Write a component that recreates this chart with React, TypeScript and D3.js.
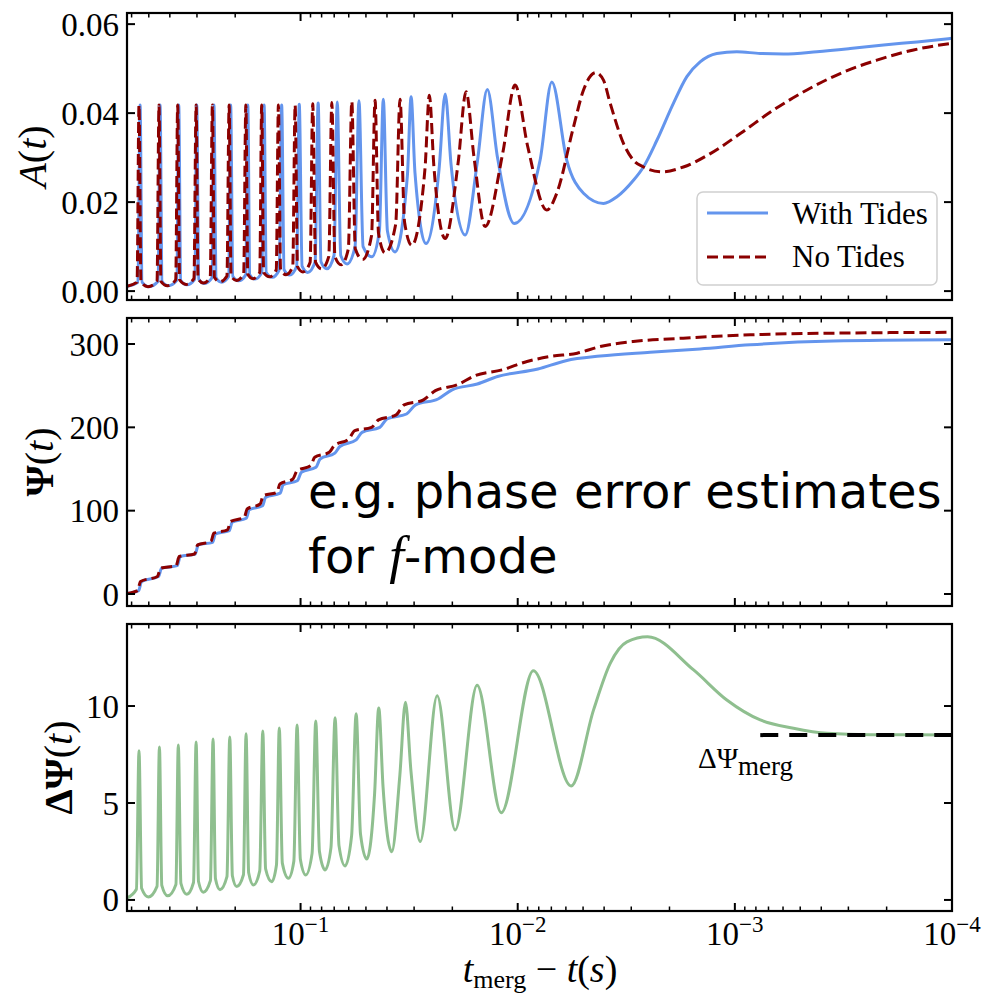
import React from "react";
import * as d3 from "d3";

// x values are log10(t_merg - t [s])
const ampTidesLogT = [-0.201,-0.251,-0.261,-0.270,-0.302,-0.344,-0.353,-0.362,-0.391,-0.430,-0.439,-0.448,-0.476,-0.513,-0.522,-0.531,-0.558,-0.592,-0.601,-0.611,-0.636,-0.669,-0.678,-0.688,-0.714,-0.748,-0.757,-0.766,-0.790,-0.822,-0.832,-0.842,-0.869,-0.902,-0.913,-0.924,-0.950,-0.982,-0.994,-1.007,-1.033,-1.067,-1.081,-1.094,-1.121,-1.154,-1.169,-1.185,-1.214,-1.251,-1.269,-1.288,-1.328,-1.363,-1.381,-1.400,-1.435,-1.492,-1.509,-1.527,-1.578,-1.638,-1.666,-1.693,-1.758,-1.814,-1.860,-1.907,-1.984,-2.103,-2.157,-2.226,-2.303,-2.395,-2.457,-2.533,-2.579,-2.641,-2.717,-2.779,-2.840,-2.917,-3.009,-3.117,-3.224,-3.378,-3.531,-3.685,-3.839,-4.000];
const ampTides = [0.0011,0.0020,0.0418,0.0020,0.0010,0.0022,0.0418,0.0022,0.0012,0.0024,0.0418,0.0024,0.0014,0.0027,0.0418,0.0027,0.0017,0.0030,0.0418,0.0030,0.0020,0.0033,0.0418,0.0033,0.0023,0.0037,0.0418,0.0037,0.0027,0.0042,0.0418,0.0042,0.0031,0.0048,0.0418,0.0048,0.0036,0.0056,0.0420,0.0056,0.0042,0.0066,0.0423,0.0066,0.0050,0.0080,0.0425,0.0080,0.0061,0.0100,0.0428,0.0100,0.0077,0.0135,0.0431,0.0135,0.0088,0.0260,0.0437,0.0265,0.0107,0.0275,0.0443,0.0285,0.0126,0.0290,0.0453,0.0300,0.0152,0.0294,0.0470,0.0294,0.0220,0.0197,0.0212,0.0249,0.0279,0.0339,0.0422,0.0482,0.0515,0.0534,0.0538,0.0534,0.0533,0.0538,0.0545,0.0553,0.0560,0.0568];

const ampNoTidesLogT = [-0.201,-0.247,-0.256,-0.265,-0.297,-0.339,-0.348,-0.357,-0.387,-0.425,-0.434,-0.443,-0.473,-0.509,-0.519,-0.528,-0.553,-0.584,-0.594,-0.603,-0.629,-0.661,-0.671,-0.680,-0.705,-0.738,-0.748,-0.757,-0.781,-0.812,-0.821,-0.830,-0.857,-0.888,-0.898,-0.908,-0.933,-0.964,-0.975,-0.986,-1.011,-1.044,-1.056,-1.069,-1.097,-1.130,-1.144,-1.158,-1.187,-1.220,-1.236,-1.252,-1.286,-1.327,-1.343,-1.359,-1.389,-1.438,-1.458,-1.479,-1.512,-1.573,-1.593,-1.614,-1.666,-1.726,-1.762,-1.799,-1.850,-1.931,-1.988,-2.046,-2.134,-2.180,-2.257,-2.303,-2.360,-2.395,-2.426,-2.487,-2.533,-2.579,-2.664,-2.763,-2.887,-3.025,-3.178,-3.332,-3.485,-3.654,-3.823,-4.000];
const ampNoTides = [0.0011,0.0020,0.0418,0.0020,0.0010,0.0022,0.0418,0.0022,0.0012,0.0025,0.0418,0.0025,0.0015,0.0028,0.0418,0.0028,0.0018,0.0031,0.0418,0.0031,0.0021,0.0034,0.0418,0.0034,0.0024,0.0038,0.0418,0.0038,0.0028,0.0042,0.0418,0.0042,0.0032,0.0048,0.0418,0.0048,0.0037,0.0055,0.0418,0.0055,0.0043,0.0065,0.0421,0.0065,0.0050,0.0078,0.0424,0.0078,0.0059,0.0095,0.0426,0.0095,0.0071,0.0125,0.0429,0.0130,0.0086,0.0150,0.0431,0.0155,0.0103,0.0275,0.0440,0.0280,0.0118,0.0290,0.0448,0.0300,0.0145,0.0310,0.0463,0.0325,0.0182,0.0220,0.0369,0.0452,0.0491,0.0474,0.0422,0.0332,0.0294,0.0279,0.0268,0.0279,0.0309,0.0354,0.0407,0.0452,0.0489,0.0519,0.0542,0.0557];

const phaseTidesLogT = [-0.201,-0.254,-0.268,-0.346,-0.360,-0.432,-0.446,-0.515,-0.529,-0.595,-0.608,-0.672,-0.685,-0.750,-0.764,-0.825,-0.839,-0.906,-0.920,-0.985,-1.004,-1.071,-1.090,-1.158,-1.181,-1.256,-1.283,-1.365,-1.398,-1.488,-1.530,-1.633,-1.698,-1.814,-1.907,-2.093,-2.222,-2.380,-2.610,-2.840,-3.071,-3.453,-4.000];
const phaseTides = [0.5,4,15,21,31,34,45,48,59,62,72,76,86,91,101,106,116,121,131,136,146,152,162,169,177,185,194,200,210,216,227,234,245,252,261,270,280,285.5,290,294,299,303.5,305];

const phaseNoTidesLogT = [-0.201,-0.249,-0.263,-0.341,-0.355,-0.427,-0.441,-0.512,-0.526,-0.587,-0.601,-0.664,-0.677,-0.741,-0.754,-0.814,-0.828,-0.891,-0.905,-0.965,-0.984,-1.047,-1.065,-1.132,-1.155,-1.222,-1.250,-1.327,-1.359,-1.440,-1.477,-1.566,-1.621,-1.721,-1.804,-1.928,-2.043,-2.149,-2.274,-2.380,-2.532,-2.762,-3.071,-3.453,-4.000];
const phaseNoTides = [0.5,4,15,21,31,34,45,48,59,63,73,77,87,92,102,108,118,122,132,138,148,154,164,170,178,186,196,200,209,215,227,233,244,251,262,269,279,285,289,297,303,307,311,313,314];

const dPhaseLogT = [-0.201,-0.244,-0.256,-0.268,-0.299,-0.339,-0.350,-0.361,-0.388,-0.426,-0.437,-0.449,-0.476,-0.507,-0.519,-0.530,-0.552,-0.585,-0.597,-0.608,-0.629,-0.661,-0.674,-0.686,-0.706,-0.737,-0.749,-0.761,-0.783,-0.812,-0.826,-0.839,-0.867,-0.889,-0.902,-0.916,-0.944,-0.969,-0.984,-0.999,-1.024,-1.053,-1.070,-1.087,-1.113,-1.140,-1.159,-1.177,-1.205,-1.235,-1.256,-1.276,-1.305,-1.341,-1.360,-1.380,-1.420,-1.457,-1.483,-1.508,-1.551,-1.629,-1.712,-1.813,-1.924,-2.072,-2.246,-2.349,-2.426,-2.503,-2.598,-2.810,-2.963,-3.117,-3.270,-3.424,-3.624,-4.000];
const dPhase = [0.10,0.55,7.70,0.60,0.15,0.70,7.89,0.75,0.21,0.80,7.99,0.85,0.29,0.90,8.14,0.95,0.40,1.00,8.30,1.10,0.53,1.20,8.40,1.25,0.69,1.30,8.57,1.40,0.77,1.50,8.71,1.60,0.94,1.80,8.87,1.90,1.12,2.00,9.02,2.10,1.29,2.40,9.23,2.50,1.55,2.70,9.40,2.80,1.75,3.30,9.60,3.40,2.11,5.50,9.90,5.80,2.49,6.40,10.19,6.70,3.01,10.53,3.61,11.07,4.50,11.82,5.88,9.79,12.20,13.31,13.57,11.86,10.31,9.28,8.85,8.59,8.52,8.51];

const mergLogT = [-3.117, -4.0];
const mergValue = [8.5, 8.5];

const xMajorTicks = [1e-1, 1e-2, 1e-3, 1e-4];
const xMajorExp = ["\u22121", "\u22122", "\u22123", "\u22124"];
const yTicksA = [0, 0.02, 0.04, 0.06];
const yLabelsA = ["0.00", "0.02", "0.04", "0.06"];
const yTicksPsi = [0, 100, 200, 300];
const yTicksDPsi = [0, 5, 10];

const BLUE = "#6495ED";
const RED = "#8B0000";
const GREEN = "#8fbf8f";
const SERIF = "'Liberation Serif', 'Times New Roman', serif";

const X0 = 127, X1 = 952;

function zipData(logT: number[], vals: number[]): [number, number][] {
  return logT.map((e, i) => [Math.pow(10, e), vals[i]] as [number, number]);
}

export default function App() {
  const x = d3.scaleLog().domain([Math.pow(10, -0.2007), 1e-4]).range([X0, X1]);
  const dom0 = Math.pow(10, -0.2007);

  const panels = [
    { top: 13, bottom: 300, y: d3.scaleLinear().domain([-0.002, 0.0625]).range([300, 13]), ticks: yTicksA, labels: yLabelsA },
    { top: 318, bottom: 606, y: d3.scaleLinear().domain([-14.4, 331.2]).range([606, 318]), ticks: yTicksPsi, labels: yTicksPsi.map(String) },
    { top: 624, bottom: 911, y: d3.scaleLinear().domain([-0.57, 14.23]).range([911, 624]), ticks: yTicksDPsi, labels: yTicksDPsi.map(String) },
  ];

  const minor: number[] = [];
  for (let n = -4; n <= 0; n++) {
    for (let k = 2; k <= 9; k++) {
      const v = k * Math.pow(10, n);
      if (v <= dom0 && v >= 1e-4) minor.push(v);
    }
  }

  const lineFor = (ys: d3.ScaleLinear<number, number>) =>
    d3.line<[number, number]>().x((d) => x(d[0])).y((d) => ys(d[1])).curve(d3.curveMonotoneX);

  const p1 = lineFor(panels[0].y);
  const p2 = lineFor(panels[1].y);
  const p3 = lineFor(panels[2].y);

  const mergLine = d3.line<[number, number]>().x((d) => x(d[0])).y((d) => panels[2].y(d[1]));

  return (
    <svg width={986} height={997} style={{ position: "absolute", left: 0, top: 0, background: "#fff" }} fontFamily={SERIF}>
      <defs>
        {panels.map((p, i) => (
          <clipPath id={`clip${i}`} key={i}>
            <rect x={X0} y={p.top} width={X1 - X0} height={p.bottom - p.top} />
          </clipPath>
        ))}
      </defs>
      <rect x={0} y={0} width={986} height={997} fill="#fff" />

      {/* panel 1 */}
      <g clipPath="url(#clip0)" fill="none" strokeLinejoin="round">
        <path d={p1(zipData(ampTidesLogT, ampTides)) || ""} stroke={BLUE} strokeWidth={3} />
        <path d={p1(zipData(ampNoTidesLogT, ampNoTides)) || ""} stroke={RED} strokeWidth={3} strokeDasharray="11,5" />
      </g>
      {/* panel 2 */}
      <g clipPath="url(#clip1)" fill="none" strokeLinejoin="round">
        <path d={p2(zipData(phaseTidesLogT, phaseTides)) || ""} stroke={BLUE} strokeWidth={3} />
        <path d={p2(zipData(phaseNoTidesLogT, phaseNoTides)) || ""} stroke={RED} strokeWidth={3} strokeDasharray="11,5" />
      </g>
      {/* panel 3 */}
      <g clipPath="url(#clip2)" fill="none" strokeLinejoin="round">
        <path d={p3(zipData(dPhaseLogT, dPhase)) || ""} stroke={GREEN} strokeWidth={3} />
        <path d={mergLine(zipData(mergLogT, mergValue)) || ""} stroke="#000" strokeWidth={4} strokeDasharray="18,11" />
      </g>

      {/* frames and ticks */}
      {panels.map((p, i) => (
        <g key={`ax${i}`} stroke="#000">
          {xMajorTicks.map((v) => (
            <g key={`M${v}`} strokeWidth={2}>
              <line x1={x(v)} x2={x(v)} y1={p.bottom} y2={p.bottom - 8} />
              <line x1={x(v)} x2={x(v)} y1={p.top} y2={p.top + 8} />
            </g>
          ))}
          {minor.map((v) => (
            <g key={`m${v}`} strokeWidth={1.5}>
              <line x1={x(v)} x2={x(v)} y1={p.bottom} y2={p.bottom - 4.5} />
              <line x1={x(v)} x2={x(v)} y1={p.top} y2={p.top + 4.5} />
            </g>
          ))}
          {p.ticks.map((v) => (
            <g key={`y${v}`} strokeWidth={2}>
              <line x1={X0} x2={X0 + 8} y1={p.y(v)} y2={p.y(v)} />
              <line x1={X1} x2={X1 - 8} y1={p.y(v)} y2={p.y(v)} />
            </g>
          ))}
          <rect x={X0} y={p.top} width={X1 - X0} height={p.bottom - p.top} fill="none" strokeWidth={2.2} />
          {p.ticks.map((v, j) => (
            <text key={`yl${v}`} x={119} y={p.y(v)} dy="0.35em" textAnchor="end" fontSize={33} stroke="none" fill="#000">
              {p.labels[j]}
            </text>
          ))}
        </g>
      ))}

      {/* x tick labels */}
      {xMajorTicks.map((v, i) => (
        <text key={`xl${v}`} x={x(v)} y={945} textAnchor="middle" fontSize={33} fill="#000">
          10<tspan dy={-13} fontSize={23}>{xMajorExp[i]}</tspan>
        </text>
      ))}

      {/* x title */}
      <text x={540} y={982} textAnchor="middle" fontSize={38} fill="#000">
        <tspan fontStyle="italic">t</tspan>
        <tspan fontSize={26} dy={6}>merg</tspan>
        <tspan dy={-6}>{" \u2212 "}</tspan>
        <tspan fontStyle="italic">t</tspan>(<tspan fontStyle="italic">s</tspan>)
      </text>

      {/* y titles */}
      <text transform="translate(46,156.5) rotate(-90)" textAnchor="middle" fontSize={40} fill="#000">
        <tspan fontStyle="italic">A</tspan>(<tspan fontStyle="italic">t</tspan>)
      </text>
      <text transform="translate(53,462) rotate(-90)" textAnchor="middle" fontSize={40} fill="#000">
        <tspan fontWeight="bold">Ψ</tspan>(<tspan fontStyle="italic">t</tspan>)
      </text>
      <text transform="translate(72,767.5) rotate(-90)" textAnchor="middle" fontSize={40} fill="#000">
        <tspan fontWeight="bold">ΔΨ</tspan>(<tspan fontStyle="italic">t</tspan>)
      </text>

      {/* legend */}
      <g>
        <rect x={697} y={192} width={240} height={93} rx={6} fill="#fff" fillOpacity={0.85} stroke="#d0d0d0" strokeWidth={1.5} />
        <line x1={707} x2={768} y1={213} y2={213} stroke={BLUE} strokeWidth={3} />
        <text x={792} y={224} fontSize={31} fill="#000">With Tides</text>
        <line x1={707} x2={768} y1={257} y2={257} stroke={RED} strokeWidth={3} strokeDasharray="11,5" />
        <text x={792} y={267} fontSize={31} fill="#000">No Tides</text>
      </g>

      {/* annotation */}
      <text x={308} y={508} fontSize={48} fontFamily="'DejaVu Sans', sans-serif" fill="#000">e.g. phase error estimates</text>
      <text x={308} y={573} fontSize={48} fontFamily="'DejaVu Sans', sans-serif" fill="#000">
        for <tspan fontFamily={SERIF} fontStyle="italic" fontSize={53}>f</tspan>-mode
      </text>

      {/* merger label */}
      <text x={698} y={768} fontSize={29} fill="#000">
        ΔΨ<tspan fontSize={27} dy={7}>merg</tspan>
      </text>
    </svg>
  );
}
